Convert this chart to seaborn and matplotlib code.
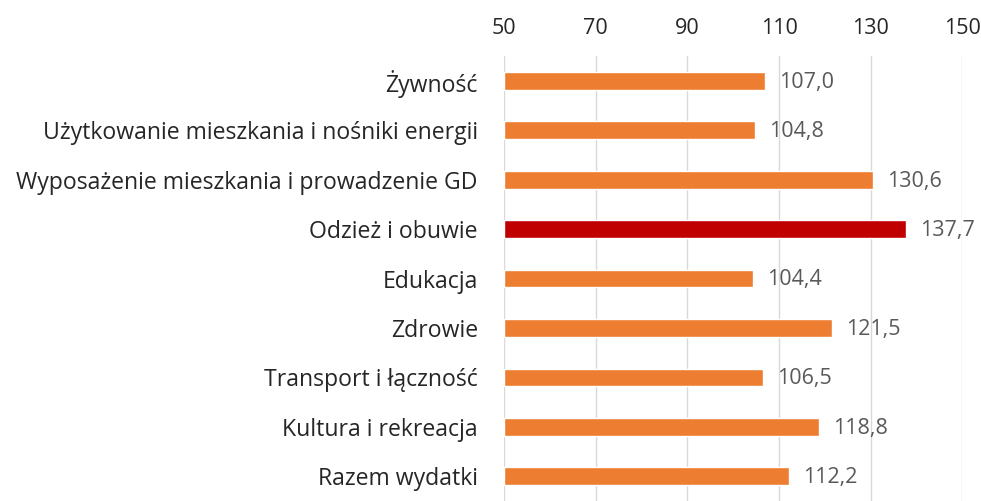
import matplotlib
matplotlib.use("Agg")
import matplotlib.pyplot as plt
import pandas as pd
import seaborn as sns

categories = [
    "Żywność",
    "Użytkowanie mieszkania i nośniki energii",
    "Wyposażenie mieszkania i prowadzenie GD",
    "Odzież i obuwie",
    "Edukacja",
    "Zdrowie",
    "Transport i łączność",
    "Kultura i rekreacja",
    "Razem wydatki",
]
values = [107.0, 104.8, 130.6, 137.7, 104.4, 121.5, 106.5, 118.8, 112.2]
highlight = "Odzież i obuwie"
x_ticks = [50, 70, 90, 110, 130, 150]

sns.set_theme(style="white")
plt.rcParams["font.family"] = ["Open Sans", "DejaVu Sans"]

df = pd.DataFrame({"category": categories, "value": values})
colors = {c: ("#C00000" if c == highlight else "#ED7D31") for c in categories}

fig = plt.figure(figsize=(9.81, 5.01), dpi=100)
ax = fig.add_axes([0.514, -0.01, 0.467, 0.898])

sns.barplot(data=df, x="value", y="category", hue="category", palette=colors,
            order=categories, orient="h", width=0.36, saturation=1,
            legend=False, ax=ax)
# bars grow from the 50 baseline
for p in ax.patches:
    p.set_x(50)
    p.set_width(p.get_width() - 50)

ax.set_xlim(50, 150)
ax.set_xticks(x_ticks)
ax.xaxis.tick_top()
ax.tick_params(axis="x", length=0, pad=12, labelsize=15.5, labelcolor="#262626")
ax.tick_params(axis="y", length=0, pad=19, labelsize=16.6, labelcolor="#262626")
ax.grid(axis="x", color="#D9D9D9", linewidth=1)
ax.set_axisbelow(True)
for s in ax.spines.values():
    s.set_visible(False)
ax.set_xlabel("")
ax.set_ylabel("")
ax.set_ylim(len(categories) - 0.5 + 0.1, -0.5)

for i, v in enumerate(values):
    ax.annotate(f"{v:.1f}".replace(".", ","), (v, i), xytext=(10, -1),
                textcoords="offset points", va="center", ha="left",
                fontsize=15.5, color="#595959")

fig.savefig("out.png", dpi=100)
